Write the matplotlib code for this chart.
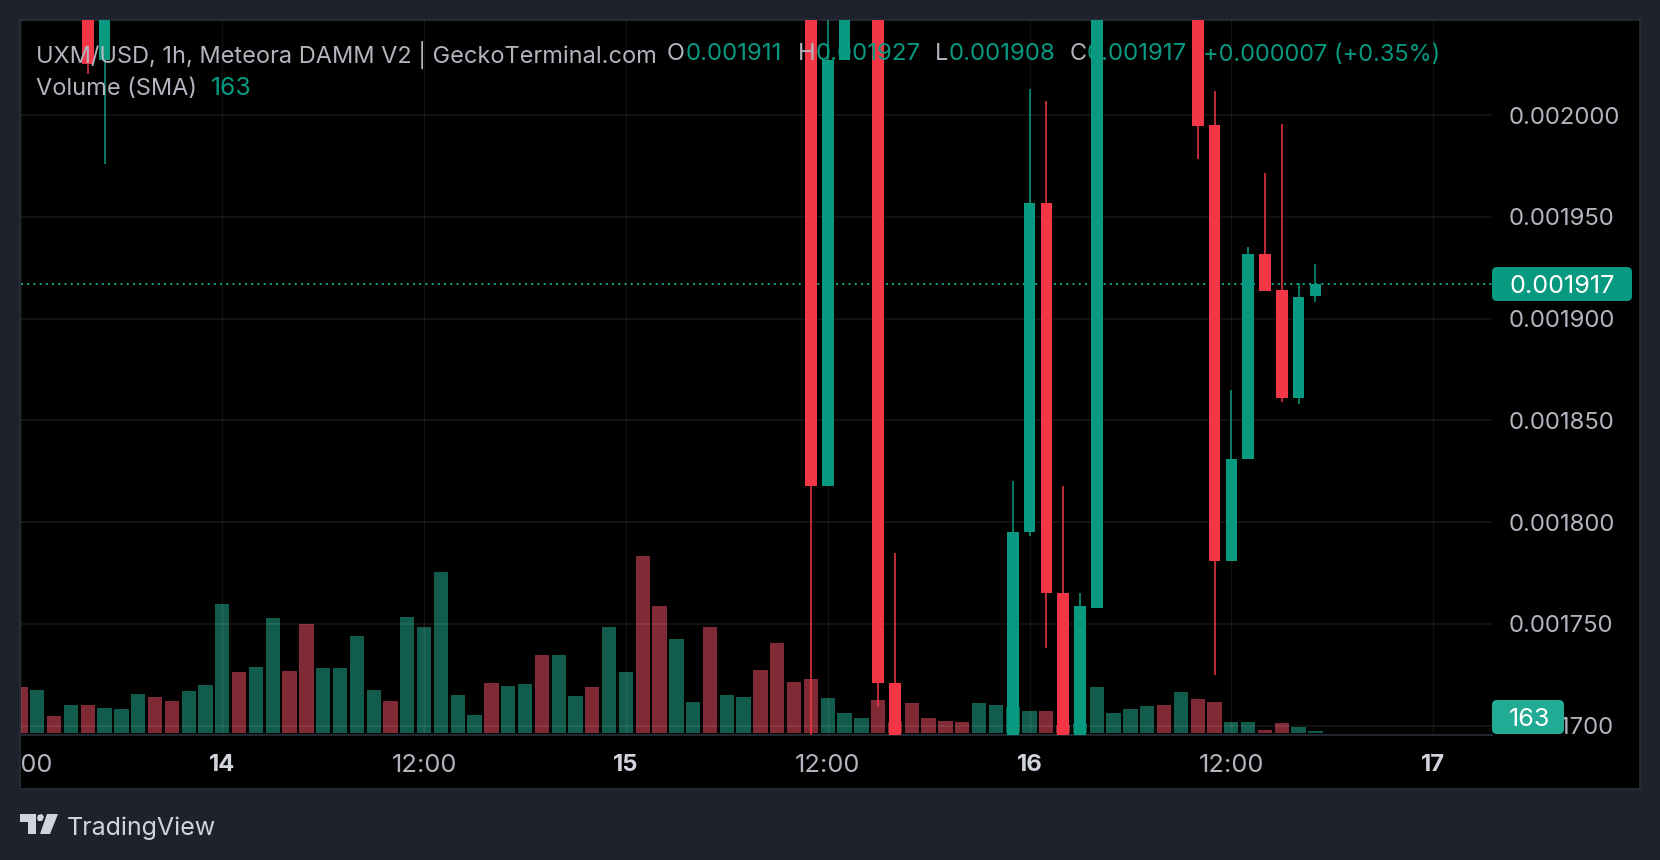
import matplotlib
matplotlib.use("Agg")
import matplotlib.pyplot as plt
from matplotlib.patches import Rectangle, FancyBboxPatch, Polygon
from matplotlib.transforms import Bbox, TransformedBbox, IdentityTransform

# ---------- data ----------
candle_hours = [-8, -7, 35, 36, 37, 39, 40, 47, 48, 49, 50, 51, 52, 58, 59, 60, 61, 62, 63, 64, 65]
candle_open = [.00210, .002027, .00215, .001818, .002027, .00215, .001721, .00168, .001795, .001957, .001765,
               .00168, .001758, .00215, .001995, .001781, .001831, .0019317, .001914, .001861, .001911]
candle_high = [.00212, .00215, .00216, .00216, .00216, .00216, .001785, .001820, .002013, .002007, .001818,
               .001765, .00216, .00216, .002012, .001865, .001935, .0019715, .0019956, .0019176, .001927]
candle_low = [.002020, .001976, .00168, .001818, .002027, .001709, .00168, .00168, .001793, .001738, .00168,
              .00168, .001758, .0019785, .001725, .001781, .001831, .0019136, .001859, .0018582, .001908]
candle_close = [.002025, .00215, .001818, .002027, .00212, .001721, .00168, .001795, .001957, .001765, .00168,
                .001759, .00212, .0019946, .001781, .001831, .0019317, .0019136, .001861, .0019106, .001917]

volume_start_hour = -12
volume = [4416, 4096, 1600, 2656, 2656, 2368, 2272, 3712, 3424, 3040, 3968, 4576, 12352, 5856, 6272, 10976,
          5920, 10432, 6208, 6208, 9280, 4096, 3040, 11072, 10112, 15456, 3584, 1664, 4736, 4480, 4672, 7456,
          7424, 3520, 4416, 10112, 5856, 16960, 12160, 8960, 2944, 10112, 3584, 3424, 6016, 8576, 4864, 5152,
          3296, 1888, 1408, 3136, 1024, 2848, 1376, 1120, 1024, 2816, 2656, 2496, 2048, 2048, 736, 960, 4352,
          1888, 2272, 2560, 2656, 3936, 3232, 2944, 1024, 1024, 256, 928, 544, 163]
volume_dir = list("rgrgrgggrrggg" "rggrrgggg" "rggggg" "rggrggrgg" "rrggrggrrrr" "gggrrrrrr" "ggggrrgg" "gggrgrrggrrgg")

price_ticks = [.0017, .00175, .0018, .00185, .0019, .00195, .002]
time_ticks = [-12, 0, 12, 24, 36, 48, 60, 72]
time_labels = ["12:00", "14", "12:00", "15", "12:00", "16", "12:00", "17"]
last_price = 0.001917
last_volume = "163"

# ---------- layout ----------
W, H = 1660, 860
BG, RED, GREEN = "#1e222d", "#f23645", "#089981"
VRED, VGREEN = "#7f2a34", "#125c4e"
TXT, TXT_B = "#b2b5be", "#d1d4dc"
FONT = "Inter"
FS = 17.2
FS_HEAD = 16.95
FS_VAL = 17.3


def fx(x):
    return x / W


def fy(y):
    return 1 - y / H


def box(x0, y0, x1, y1):
    return [fx(x0), fy(y1), (x1 - x0) / W, (y1 - y0) / H]


plt.rcParams["font.family"] = [FONT, "DejaVu Sans"]
fig = plt.figure(figsize=(W / 100, H / 100), dpi=100, facecolor=BG)

# frame
fig.add_artist(Rectangle((fx(20), fy(789)), (1640 - 20) / W, (789 - 20) / H, transform=fig.transFigure,
                         facecolor="#000000", edgecolor="#2a2e39", lw=1.2, zorder=-5))

PANE = (20.5, 20, 1492, 734.7)
ax_vol = fig.add_axes(box(*PANE), zorder=1)
ax = fig.add_axes(box(*PANE), zorder=2)
xlim = (-12.0, 75.5)
ylim = (0.0016956, 0.0020467)

# volume
ax_vol.bar([volume_start_hour + i for i in range(len(volume))], volume, width=0.85,
           color=[VRED if d == "r" else VGREEN for d in volume_dir], linewidth=0)
ax_vol.set_xlim(*xlim)
ax_vol.set_ylim(-192, 68419)
ax_vol.axis("off")

# price pane
ax.patch.set_alpha(0)
ax.set_xlim(*xlim)
ax.set_ylim(*ylim)
for s in ax.spines.values():
    s.set_visible(False)
ax.spines["bottom"].set_visible(True)
ax.spines["bottom"].set_color("#2a2e39")
ax.spines["bottom"].set_linewidth(1.2)
ax.set_axisbelow(True)
ax.grid(True, axis="y", color="white", alpha=0.095, lw=1.1)
ax.grid(True, axis="x", color="white", alpha=0.075, lw=1.0)
ax.axhline(last_price, color="#12a58c", lw=1.4, ls=(0, (1, 2.2)), zorder=1.5)

for h, o, hi, lo, c in zip(candle_hours, candle_open, candle_high, candle_low, candle_close):
    col = GREEN if c >= o else RED
    ax.vlines(h, lo, hi, color=col, lw=1.1, zorder=3)
    ax.bar(h, abs(c - o), bottom=min(o, c), width=0.69, color=col, linewidth=0, zorder=3)

# ticks
ax.yaxis.tick_right()
ax.set_yticks(price_ticks)
ax.set_yticklabels([f"{p:.6f}" for p in price_ticks], color=TXT, fontsize=FS, fontfamily=FONT)
ax.tick_params(axis="y", length=0, pad=12)
ax.set_xticks(time_ticks)
ax.set_xticklabels(time_labels, fontsize=FS, fontfamily=FONT)
ax.tick_params(axis="x", length=0, pad=14)
clip = TransformedBbox(Bbox([[20.5, 0], [1640, 860]]), IdentityTransform())
for tk, lab in zip(ax.get_xticklabels(), time_labels):
    bold = ":" not in lab
    tk.set_fontweight("bold" if bold else "normal")
    tk.set_fontsize(FS if bold else 18.4)
    tk.set_color(TXT_B if bold else TXT)
    tk.set_clip_on(True)
    tk.set_clip_box(clip)

# price badges
yc = fig.transFigure.inverted().transform(ax.transData.transform((0, last_price)))[1]
ph = 34 / H
fig.add_artist(FancyBboxPatch((fx(1492), yc - ph / 2), 140 / W, ph, transform=fig.transFigure, zorder=10,
                              boxstyle="round,pad=0,rounding_size=0.003", facecolor=GREEN, edgecolor="none",
                              mutation_aspect=W / H))
fig.text(fx(1509), yc, f"{last_price:.6f}", color="white", fontsize=FS + 0.9, va="center_baseline", ha="left", zorder=11)
fig.add_artist(FancyBboxPatch((fx(1492), fy(734)), 72 / W, 34 / H, transform=fig.transFigure, zorder=10,
                              boxstyle="round,pad=0,rounding_size=0.003", facecolor="#22ab94", edgecolor="none",
                              mutation_aspect=W / H))
fig.text(fx(1530), fy(717), last_volume, color="white", fontsize=FS + 0.9, va="center_baseline", ha="center", zorder=11)

# legend text
head = [
    (36.5, "UXM/USD, 1h, Meteora DAMM V2 | GeckoTerminal.com", TXT, FS_HEAD),
    (667, "O", TXT, FS_HEAD), (685.5, "0.001911", GREEN, FS_VAL),
    (798, "H", TXT, FS_HEAD), (816, "0.001927", GREEN, FS_VAL),
    (935, "L", TXT, FS_HEAD), (949, "0.001908", GREEN, FS_VAL),
    (1070, "C", TXT, FS_HEAD), (1087, "0.001917", GREEN, FS_VAL),
    (1203, "+0.000007 (+0.35%)", GREEN, FS_HEAD),
]
for x, s, c, fs in head:
    fig.text(fx(x), fy(52), s, color=c, fontsize=fs, va="center_baseline", ha="left", zorder=12)
fig.text(fx(36.5), fy(86), "Volume (SMA)", color=TXT, fontsize=FS_HEAD, va="center_baseline", ha="left", zorder=12)
fig.text(fx(210.5), fy(86), last_volume, color=GREEN, fontsize=FS_VAL + 0.5, va="center_baseline", ha="left", zorder=12)

# TradingView mark
LOGO = "#d1d4dc"
fig.add_artist(Polygon([(fx(x), fy(y)) for x, y in [(20, 814), (36, 814), (36, 834), (28, 834), (28, 822), (20, 822)]],
                       transform=fig.transFigure, facecolor=LOGO, edgecolor="none"))
fig.add_artist(Polygon([(fx(x), fy(y)) for x, y in [(47, 814), (58, 814), (50, 834), (40, 834)]],
                       transform=fig.transFigure, facecolor=LOGO, edgecolor="none"))
fig.add_artist(Polygon([(fx(x), fy(y)) for x, y in [(38, 815), (42, 814), (44, 817), (42, 821), (38, 821), (37, 818)]],
                       transform=fig.transFigure, facecolor=LOGO, edgecolor="none"))
fig.text(fx(66.5), fy(826), "TradingView", color=LOGO, fontsize=18, va="center_baseline", ha="left")

fig.savefig("out.png", dpi=100, facecolor=BG)
